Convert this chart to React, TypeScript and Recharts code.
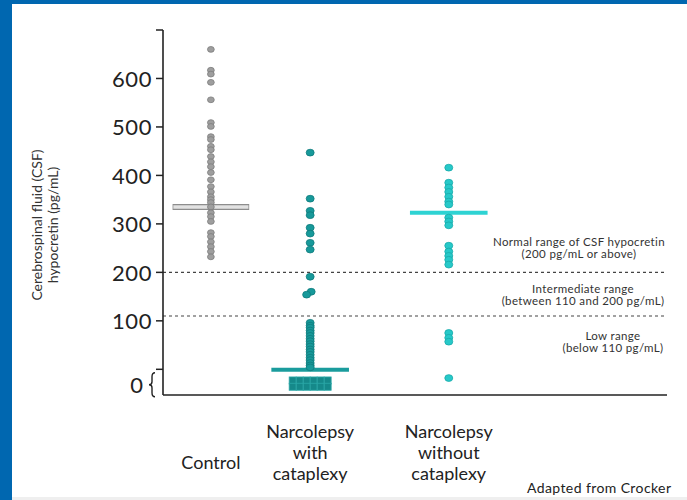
import React from 'react';
import { ScatterChart, Scatter, XAxis, YAxis, ReferenceLine } from 'recharts';

// ---- data ----
const categoryLabels: string[][] = [
  ['Control'],
  ['Narcolepsy', 'with', 'cataplexy'],
  ['Narcolepsy', 'without', 'cataplexy'],
];
const categoryX = [9.5, 29.2, 56.7];

const controlValues = [660, 617, 609, 592, 556, 509, 501, 480, 474, 460, 453, 439, 428, 418, 406, 391, 377, 366, 356, 350, 344, 335, 323, 315, 305, 282, 274, 263, 253, 243, 232];
const withCataplexyValues = [447, 352, 327, 318, 292, 280, 261, 247, 191, 160, 154, 96, 90, 86, 80, 75, 69, 63, 58, 52, 47, 41, 36, 30, 24, 19, 13, 8, 4];
const withCataplexyJitter = [0, 0, 0, 0, 0, 0, 0, 0, 0, 0.2, -0.7, 0, 0, 0, 0, 0, 0, 0, 0, 0, 0, 0, 0, 0, 0, 0, 0, 0, 0];
const undetectableOffsets = [-3.47, -2.08, -0.69, 0.69, 2.08, 3.47];
const undetectableRows = [-23, -36];
const withoutCataplexyValues = [416, 385, 375, 366, 356, 346, 340, 313, 305, 297, 255, 243, 234, 226, 216, 75, 65, 57, -18];

const meanValues = [335, -1, 323];
const meanHalfWidth = [7.6, 7.7, 7.7];

const thresholds = [200, 110];
const yTicks = [-32, 0, 100, 200, 300, 400, 500, 600, 700];
const yTickLabels: Record<number, string> = { 100: '100', 200: '200', 300: '300', 400: '400', 500: '500', 600: '600' };

const rangeNotes = [
  { lines: ['Normal range of CSF hypocretin', '(200 pg/mL or above)'], cx: 579, top: 236 },
  { lines: ['Intermediate range', '(between 110 and 200 pg/mL)'], cx: 583, top: 283 },
  { lines: ['Low range', '(below 110 pg/mL)'], cx: 613, top: 330 },
];

// ---- derived series ----
const controlData = controlValues.map((y) => ({ x: categoryX[0], y }));
const withData = withCataplexyValues.map((y, i) => ({ x: categoryX[1] + withCataplexyJitter[i], y }));
const undetectableData = undetectableRows.flatMap((y) => undetectableOffsets.map((o) => ({ x: categoryX[1] + o, y })));
const withoutData = withoutCataplexyValues.map((y) => ({ x: categoryX[2], y }));

const FONT = 'Lato, "Open Sans", sans-serif';

const ovalShape = (fill: string, stroke: string, rx: number, ry: number) => (p: any) => (
  <ellipse cx={p.cx} cy={p.cy} rx={rx} ry={ry} fill={fill} stroke={stroke} strokeWidth={0.8} />
);
const squareShape = (p: any) => (
  <rect x={p.cx - 3.5} y={p.cy - 3.5} width={7} height={7} fill="#15898a" stroke="#2aa7a7" strokeWidth={0.8} />
);

const YTick = (props: any) => {
  const { x, y, payload } = props;
  const v = payload.value;
  if (v === -32) {
    const x0 = x - 14;
    const y0 = y - 12;
    const y1 = y + 12;
    return (
      <g>
        <text x={x - 20} y={y} textAnchor="end" dominantBaseline="central" fontSize={22} fill="#222" fontFamily={FONT}>0</text>
        <path d={`M${x0 + 6},${y0} Q${x0 + 3},${y0} ${x0 + 3},${y0 + 4} L${x0 + 3},${y - 3} Q${x0 + 3},${y} ${x0},${y} Q${x0 + 3},${y} ${x0 + 3},${y + 3} L${x0 + 3},${y1 - 4} Q${x0 + 3},${y1} ${x0 + 6},${y1}`} fill="none" stroke="#222" strokeWidth={1.4} />
      </g>
    );
  }
  return (
    <g>
      <line x1={x - 7} x2={x} y1={y} y2={y} stroke="#222" strokeWidth={1.5} />
      {yTickLabels[v] ? (
        <text x={x - 11} y={y} textAnchor="end" dominantBaseline="central" fontSize={22} letterSpacing={0.6} fill="#222" fontFamily={FONT}>{yTickLabels[v]}</text>
      ) : null}
    </g>
  );
};

const XTick = (props: any) => {
  const { x, y, payload } = props;
  const idx = categoryX.indexOf(payload.value);
  const lines = categoryLabels[idx] || [];
  const start = lines.length === 1 ? 74 : 43;
  return (
    <g>
      {lines.map((l, i) => (
        <text key={i} x={x} y={y + start + i * 21} textAnchor="middle" fontSize={18} fill="#222" fontFamily={FONT}>{l}</text>
      ))}
    </g>
  );
};

const abs = (s: React.CSSProperties): React.CSSProperties => ({ position: 'absolute', ...s });

export default function App() {
  return (
    <div style={{ position: 'absolute', left: 0, top: 0, width: 687, height: 500, background: '#fff', overflow: 'hidden', fontFamily: FONT }}>
      <ScatterChart width={687} height={500} margin={{ top: 30, right: 20, bottom: 0, left: 0 }}>
        <XAxis type="number" dataKey="x" domain={[0, 100]} ticks={categoryX} tick={<XTick />} tickLine={false} tickSize={0} tickMargin={0} height={105} axisLine={{ stroke: '#222', strokeWidth: 1.6 }} allowDataOverflow interval={0} />
        <YAxis type="number" dataKey="y" domain={[-53, 700]} ticks={yTicks} tick={<YTick />} tickLine={false} tickSize={0} tickMargin={0} width={163} axisLine={{ stroke: '#222', strokeWidth: 1.6 }} allowDataOverflow interval={0} />
        {thresholds.map((t) => (
          <ReferenceLine key={t} y={t} stroke="#444" strokeWidth={1.2} strokeDasharray="3 3" />
        ))}
        <ReferenceLine segment={[{ x: categoryX[0] - meanHalfWidth[0], y: meanValues[0] }, { x: categoryX[0] + meanHalfWidth[0], y: meanValues[0] }]} stroke="#8d8d8d" strokeWidth={6} />
        <ReferenceLine segment={[{ x: categoryX[0] - meanHalfWidth[0] + 0.15, y: meanValues[0] }, { x: categoryX[0] + meanHalfWidth[0] - 0.15, y: meanValues[0] }]} stroke="#e2e2e2" strokeWidth={3.5} />
        <Scatter data={controlData} isAnimationActive={false} shape={ovalShape('#9e9e9e', '#7c7c7c', 3.4, 2.9)} />
        <Scatter data={withData} isAnimationActive={false} shape={ovalShape('#17999a', '#0f7b7c', 4, 3.4)} />
        <Scatter data={undetectableData} isAnimationActive={false} shape={squareShape} />
        <ReferenceLine segment={[{ x: categoryX[1] - meanHalfWidth[1], y: meanValues[1] }, { x: categoryX[1] + meanHalfWidth[1], y: meanValues[1] }]} stroke="#1a9c9d" strokeWidth={4} />
        <Scatter data={withoutData} isAnimationActive={false} shape={ovalShape('#27c9c9', '#17a9a9', 4, 3.4)} />
        <ReferenceLine segment={[{ x: categoryX[2] - meanHalfWidth[2], y: meanValues[2] }, { x: categoryX[2] + meanHalfWidth[2], y: meanValues[2] }]} stroke="#2ed3d3" strokeWidth={4} />
      </ScatterChart>

      <div style={abs({ left: 0, top: 0, width: 12, height: 500, background: '#0067b0' })} />
      <div style={abs({ left: 0, top: 0, width: 687, height: 4, background: '#0067b0' })} />
      <div style={abs({ left: 12, top: 497, width: 675, height: 3, background: '#efefef' })} />

      <div style={abs({ left: 46 - 110, top: 225 - 17, width: 220, height: 34, transform: 'rotate(-90deg)', textAlign: 'center', fontSize: 14, lineHeight: '16px', color: '#333' })}>
        <div>Cerebrospinal fluid (CSF)</div>
        <div>hypocretin (pg/mL)</div>
      </div>

      {rangeNotes.map((n, i) =>
        n.lines.map((l, j) => (
          <div key={`${i}-${j}`} style={abs({ left: n.cx - 100, top: n.top + j * 12, width: 200, height: 12, textAlign: 'center', fontSize: 11.5, letterSpacing: 0.35, lineHeight: '12px', color: '#333', whiteSpace: 'nowrap' })}>
            {l}
          </div>
        ))
      )}
      <div style={abs({ left: 527, top: 480, fontSize: 14, letterSpacing: 0.4, lineHeight: '16px', color: '#222', whiteSpace: 'nowrap' })}>
        Adapted from Crocker
      </div>
    </div>
  );
}
